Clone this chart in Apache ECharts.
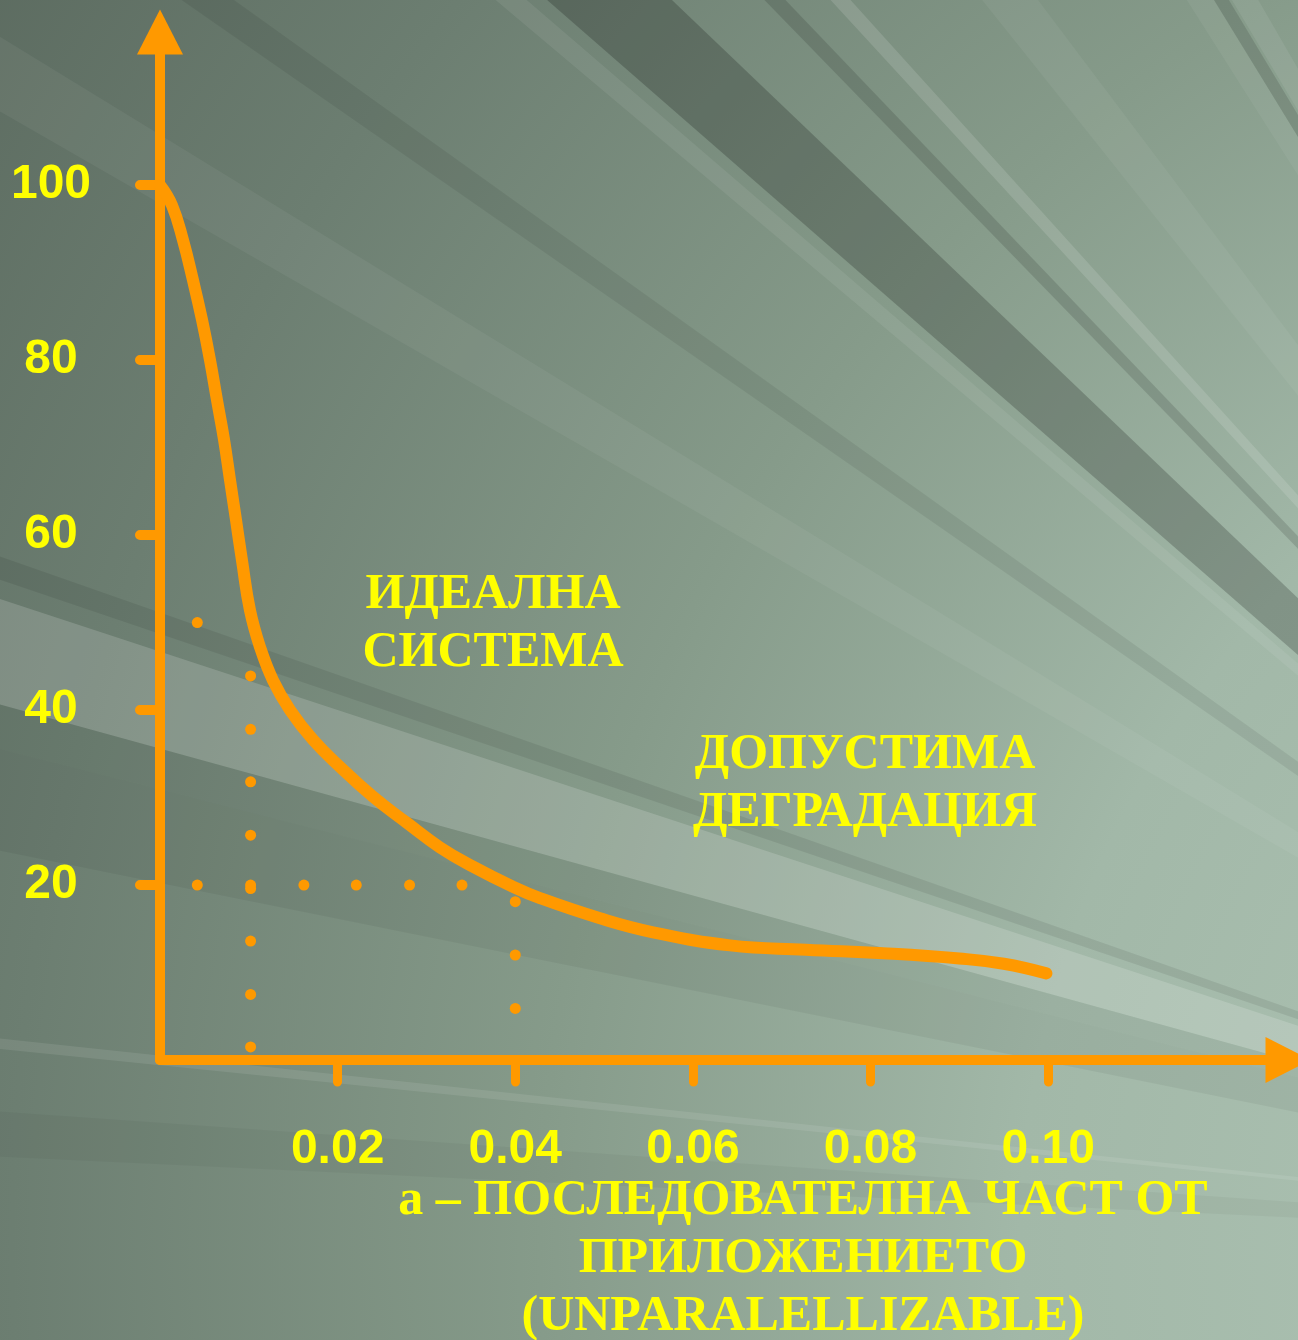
<!DOCTYPE html>
<html>
<head>
<meta charset="utf-8">
<script src="https://cdn.jsdelivr.net/npm/echarts@6/dist/echarts.min.js"></script>
<style>
  html, body { margin: 0; padding: 0; background: #6f8576; }
  #chart { width: 1298px; height: 1340px; }
</style>
</head>
<body>
<div id="chart"></div>
<script>
// Sequential fraction of the program (a) and the resulting speedup curve
const seqFraction = [0, 0.00135, 0.00259, 0.00372, 0.00473, 0.00563, 0.00642, 0.00721, 0.00788,
  0.00856, 0.00923, 0.01013, 0.01126, 0.01272, 0.01464, 0.01723, 0.02027, 0.02398, 0.02781,
  0.03153, 0.03524, 0.03974, 0.04278, 0.04954, 0.05551, 0.06418, 0.07273, 0.0814,
  0.0900, 0.0950, 0.0998];
const speedup = [100, 97.7, 93.7, 89.1, 84.6, 80.0, 75.4, 70.9, 66.3,
  61.7, 57.1, 51.4, 47.2, 43.4, 40.0, 36.6, 33.5, 30.1, 27.1,
  24.3, 22.1, 19.8, 18.5, 16.2, 14.6, 13.1, 12.6, 12.2,
  11.6, 11.0, 9.9];

// Dotted guide marks
const guideDotA = [0.0042,
  0.0042, 0.0102, 0.0162, 0.0221, 0.0281, 0.0340,
  0.0102, 0.0102, 0.0102, 0.0102, 0.0102, 0.0102, 0.0102, 0.0102,
  0.0400, 0.0400, 0.0400];
const guideDotS = [50.0,
  20.0, 20.0, 20.0, 20.0, 20.0, 20.0,
  43.9, 37.8, 31.8, 25.7, 19.6, 13.6, 7.5, 1.5,
  18.1, 12.0, 5.9];

// Tick labels
const xTicks = [0.02, 0.04, 0.06, 0.08, 0.10];
const yTicks = [20, 40, 60, 80, 100];

// Annotations
const idealText = ['ИДЕАЛНА', 'СИСТЕМА'];
const degradText = ['ДОПУСТИМА', 'ДЕГРАДАЦИЯ'];
const xTitle = ['a – ПОСЛЕДОВАТЕЛНА ЧАСТ ОТ', 'ПРИЛОЖЕНИЕТО', '(UNPARALELLIZABLE)'];

const ORANGE = '#FF9900';
const YELLOW = '#FFFF00';
const W = 1298, H = 1340;

// Background light rays fanning out from a point beyond the lower-right corner
const focus = [1980, 1250];
const rays = [
  [59.1, 60.0, 'rgba(255,255,255,0.07)'],
  [58.5, 59.0, 'rgba(0,0,0,0.12)'],
  [57.6, 58.5, 'rgba(255,255,255,0.05)'],
  [51.4, 53.0, 'rgba(255,255,255,0.05)'],
  [47.4, 47.9, 'rgba(255,255,255,0.13)'],
  [45.8, 46.3, 'rgba(0,0,0,0.13)'],
  [41.1, 43.7, 'rgba(0,0,0,0.20)'],
  [40.1, 40.7, 'rgba(255,255,255,0.07)'],
  [34.8, 35.6, 'rgba(0,0,0,0.07)'],
  [29.9, 31.5, 'rgba(255,255,255,0.05)'],
  [18.7, 19.3, 'rgba(0,0,0,0.08)'],
  [15.4, 18.2, 'rgba(255,255,255,0.16)'],
  [14.2, 15.4, 'rgba(0,0,0,0.04)'],
  [11.4, 14.2, 'rgba(0,0,0,0.05)'],
  [5.8, 6.1, 'rgba(255,255,255,0.09)'],
  [2.7, 4.0, 'rgba(0,0,0,0.035)']
];

function rayShape(t1, t2) {
  const R = 3200;
  const a1 = t1 * Math.PI / 180, a2 = t2 * Math.PI / 180;
  return [
    [focus[0], focus[1]],
    [focus[0] - R * Math.cos(a1), focus[1] - R * Math.sin(a1)],
    [focus[0] - R * Math.cos(a2), focus[1] - R * Math.sin(a2)]
  ];
}

const bgElements = [{
  type: 'rect',
  shape: { x: 0, y: 0, width: W, height: H },
  style: {
    fill: {
      type: 'radial', x: focus[0], y: focus[1], r: 2400, global: true,
      colorStops: [
        { offset: 0, color: '#b6cbbc' },
        { offset: 0.4, color: '#a2b8a8' },
        { offset: 0.6, color: '#869b8a' },
        { offset: 0.82, color: '#6c7e71' },
        { offset: 1, color: '#5b6a5f' }
      ]
    }
  },
  z: -100, silent: true
}];
rays.forEach(function (r) {
  bgElements.push({
    type: 'polygon',
    shape: { points: rayShape(r[0], r[1]) },
    style: { fill: r[2] },
    z: -90, silent: true
  });
});

const serifFont = 'bold 50px "Liberation Serif", "Times New Roman", serif';
function textBlock(lines, cx, cy) {
  return {
    type: 'text',
    x: cx, y: cy,
    style: {
      text: lines.join('\n'),
      font: serifFont,
      fill: YELLOW,
      lineHeight: 58,
      align: 'center', verticalAlign: 'middle',
      textAlign: 'center', textVerticalAlign: 'middle'
    },
    z: 50, silent: true
  };
}

const chart = echarts.init(document.getElementById('chart'), null, { renderer: 'canvas' });

chart.setOption({
  animation: false,
  grid: { left: 160, right: 10, top: 32, bottom: 280 },
  xAxis: {
    type: 'value',
    min: 0, max: 0.127,
    interval: 0.02,
    splitLine: { show: false },
    axisLine: {
      show: true, onZero: false,
      lineStyle: { color: ORANGE, width: 10, cap: 'round' },
      symbol: ['none', 'triangle'], symbolSize: [46, 45]
    },
    axisTick: {
      show: true, length: 22, customValues: xTicks,
      lineStyle: { color: ORANGE, width: 9, cap: 'round' }
    },
    axisLabel: {
      customValues: xTicks,
      formatter: function (v) { return v.toFixed(2); },
      color: YELLOW, fontSize: 48, fontWeight: 'bold',
      fontFamily: '"Liberation Sans", Arial, sans-serif',
      margin: 66
    }
  },
  yAxis: {
    type: 'value',
    min: 0, max: 117.5,
    interval: 20,
    splitLine: { show: false },
    axisLine: {
      show: true, onZero: false,
      lineStyle: { color: ORANGE, width: 10, cap: 'round' },
      symbol: ['none', 'triangle'], symbolSize: [46, 45]
    },
    axisTick: {
      show: true, length: 20, customValues: yTicks,
      lineStyle: { color: ORANGE, width: 10, cap: 'round' }
    },
    axisLabel: {
      customValues: yTicks,
      color: YELLOW, fontSize: 48, fontWeight: 'bold',
      fontFamily: '"Liberation Sans", Arial, sans-serif',
      align: 'center',
      margin: 109
    }
  },
  series: [
    {
      type: 'scatter',
      data: guideDotA.map(function (a, i) { return [a, guideDotS[i]]; }),
      symbol: 'circle', symbolSize: 11,
      itemStyle: { color: ORANGE, opacity: 1 },
      silent: true, z: 3
    },
    {
      type: 'line',
      data: seqFraction.map(function (a, i) { return [a, speedup[i]]; }),
      smooth: 0.45,
      showSymbol: false,
      lineStyle: { color: ORANGE, width: 12, cap: 'round', join: 'round' },
      silent: true, z: 4
    }
  ],
  graphic: {
    elements: bgElements.concat([
      textBlock(idealText, 493, 624),
      textBlock(degradText, 865, 784),
      textBlock(xTitle, 803, 1259)
    ])
  }
});
</script>
</body>
</html>
